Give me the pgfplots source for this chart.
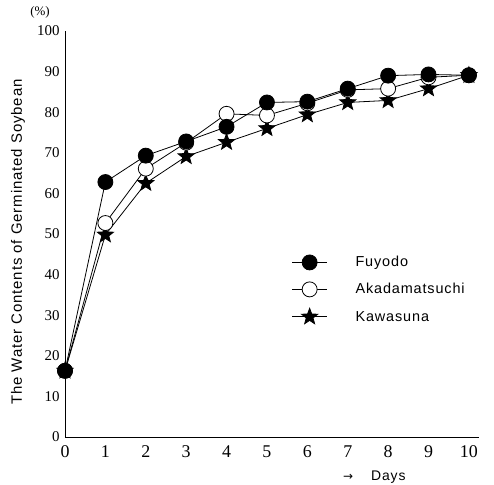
\documentclass[border=0pt]{standalone}
\usepackage{fontspec}
\setmainfont{Liberation Serif}
\setsansfont{Liberation Sans}
\newfontfamily\lblfont[LetterSpace=6]{Liberation Sans}
\newfontfamily\arrfont{DejaVu Sans}
\usepackage{pgfplots}
\pgfplotsset{compat=1.18}
% filled five-point star
\pgfdeclareplotmark{fstar}{%
  \pgfpathmoveto{\pgfqpointpolar{90}{\pgfplotmarksize}}%
  \pgfpathlineto{\pgfqpointpolar{126}{0.42\pgfplotmarksize}}%
  \pgfpathlineto{\pgfqpointpolar{162}{\pgfplotmarksize}}%
  \pgfpathlineto{\pgfqpointpolar{198}{0.42\pgfplotmarksize}}%
  \pgfpathlineto{\pgfqpointpolar{234}{\pgfplotmarksize}}%
  \pgfpathlineto{\pgfqpointpolar{270}{0.42\pgfplotmarksize}}%
  \pgfpathlineto{\pgfqpointpolar{306}{\pgfplotmarksize}}%
  \pgfpathlineto{\pgfqpointpolar{342}{0.42\pgfplotmarksize}}%
  \pgfpathlineto{\pgfqpointpolar{18}{\pgfplotmarksize}}%
  \pgfpathlineto{\pgfqpointpolar{54}{0.42\pgfplotmarksize}}%
  \pgfpathclose
  \pgfusepathqfillstroke}
\begin{document}
\begin{tikzpicture}
\path[use as bounding box] (0,0) rectangle (494bp,485bp);
\begin{axis}[
    at={(65bp,48bp)}, anchor=south west,
    scale only axis,
    width=414bp, height=406bp,
    xmin=0, xmax=10.25, ymin=0, ymax=100,
    axis x line=bottom, axis y line=left,
    axis line style={-, line width=0.8pt},
    xtick={0,...,10}, ytick={0,10,...,100},
    major tick length=0pt,
    /pgf/number format/assume math mode=true,
    xticklabel style={font=\fontsize{18}{18}\selectfont, yshift=-5bp},
    yticklabel style={font=\fontsize{15}{15}\selectfont, xshift=-2bp},
    ylabel={\lblfont\fontsize{15}{15}\selectfont The Water Contents of Germinated Soybean},
    ylabel style={at={(axis description cs:-0.1135,0.48)}, anchor=center, rotate=0},
    clip=false,
    every axis plot/.append style={black, line width=0.8pt},
    reverse legend,
    legend cell align=left,
    legend style={draw=none, fill=none, at={(axis description cs:0.54,0.455)}, anchor=north west,
        font=\lblfont\fontsize{14.5}{14.5}\selectfont,
        row sep=11bp,
        /tikz/every odd column/.append style={column sep=26bp}},
    legend image code/.code={\draw[mark repeat=2, mark phase=2] plot coordinates {(0bp,0bp) (17.5bp,0bp) (35bp,0bp)};},
]
\addplot[mark=fstar, mark size=8.5bp, mark options={fill=black}] coordinates {
 (0,16.3) (1,49.8) (2,62.5) (3,69.1) (4,72.6) (5,76.0) (6,79.4) (7,82.4) (8,82.9) (9,85.8) (10,89.1)};
\addlegendentry{Kawasuna}
\addplot[mark=*, mark size=7.5bp, mark options={fill=white}] coordinates {
 (0,16.3) (1,52.7) (2,66.1) (3,72.5) (4,79.6) (5,79.2) (6,82.2) (7,85.5) (8,85.8) (9,88.6) (10,89.1)};
\addlegendentry{Akadamatsuchi}
\addplot[mark=*, mark size=7.5bp, mark options={fill=black}] coordinates {
 (0,16.3) (1,62.8) (2,69.3) (3,72.8) (4,76.4) (5,82.4) (6,82.6) (7,85.8) (8,89.0) (9,89.3) (10,89.1)};
\addlegendentry{Fuyodo}
\end{axis}
\node[font=\fontsize{13}{13}\selectfont] at (40bp,473bp) {(\%)};
\node[anchor=west, inner sep=0pt] at (343bp,8bp) {\arrfont\fontsize{12}{12}\selectfont →\hspace{18bp}\lblfont\fontsize{14}{14}\selectfont Days};
\end{tikzpicture}
\end{document}
